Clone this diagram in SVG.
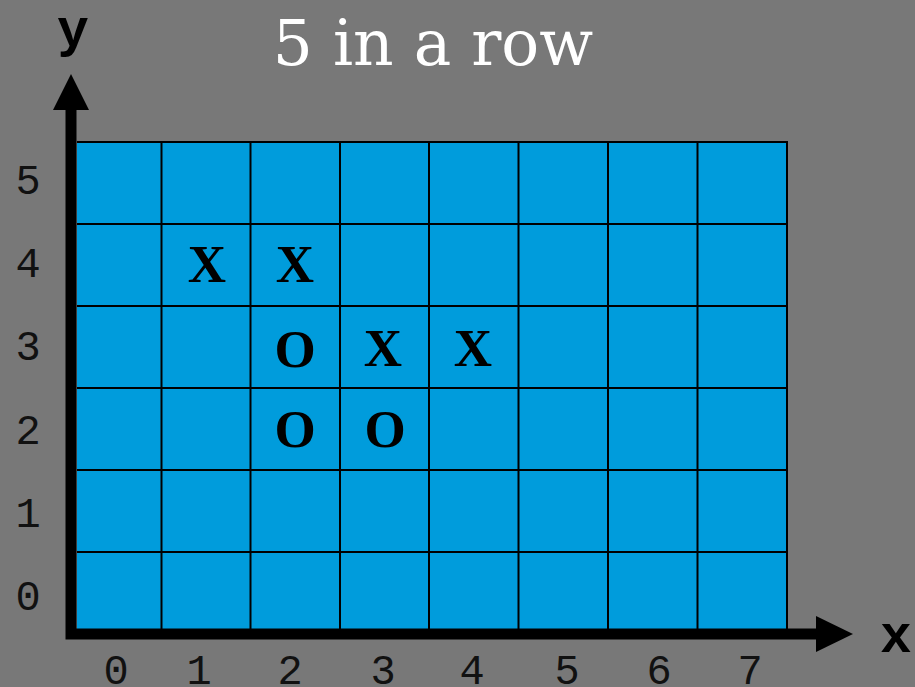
<svg xmlns="http://www.w3.org/2000/svg" width="915" height="687" viewBox="0 0 915 687">
<style>
.grid{stroke:#000;stroke-width:2;fill:none}
.tick{font-family:"Liberation Mono","Courier New",monospace;font-size:42px;fill:#111;text-anchor:middle}
.axlbl{font-family:"Liberation Mono","Courier New",monospace;font-weight:bold;font-size:53px;fill:#000;text-anchor:middle}
.mark{font-family:"Liberation Serif","Times New Roman",serif;font-weight:bold;font-size:53px;fill:#000;text-anchor:middle}
</style>
<rect width="915" height="687" fill="#787878"/>
<text x="433" y="65" font-family="'DejaVu Serif',Georgia,serif" font-size="63" fill="#fff" text-anchor="middle">5 in a row</text>
<g id="board">
<rect x="77" y="142" width="710" height="490" fill="#009cdc"/>
<path class="grid" d="M77 142H787V632M161.5 142V632M250.5 142V632M340 142V632M429 142V632M518.5 142V632M608 142V632M697.5 142V632M77 224H787M77 306H787M77 388H787M77 470H787M77 552H787"/>
</g>
<g id="axes">
<path d="M71 108V634H818" stroke="#000" stroke-width="11" fill="none"/>
<polygon points="71,74 53,110 89,110" fill="#000"/>
<polygon points="853,634 816,616 816,652" fill="#000"/>
<text class="axlbl" x="73" y="46">y</text>
<text class="axlbl" x="896" y="652">x</text>
</g>
<g id="y-ticks">
<text class="tick" x="28" y="194">5</text>
<text class="tick" x="28" y="277">4</text>
<text class="tick" x="28" y="360">3</text>
<text class="tick" x="28" y="444">2</text>
<text class="tick" x="28" y="527">1</text>
<text class="tick" x="28" y="610">0</text>
</g>
<g id="x-ticks">
<text class="tick" x="116" y="684">0</text>
<text class="tick" x="199" y="684">1</text>
<text class="tick" x="290" y="684">2</text>
<text class="tick" x="383" y="684">3</text>
<text class="tick" x="472" y="684">4</text>
<text class="tick" x="567" y="684">5</text>
<text class="tick" x="659" y="684">6</text>
<text class="tick" x="750" y="684">7</text>
</g>
<g id="marks">
<text class="mark" x="207" y="282">X</text>
<text class="mark" x="295" y="282">X</text>
<text class="mark" x="383" y="366">X</text>
<text class="mark" x="473" y="366">X</text>
<text class="mark" x="295" y="367">O</text>
<text class="mark" x="295" y="447">O</text>
<text class="mark" x="385" y="447">O</text>
</g>
</svg>
